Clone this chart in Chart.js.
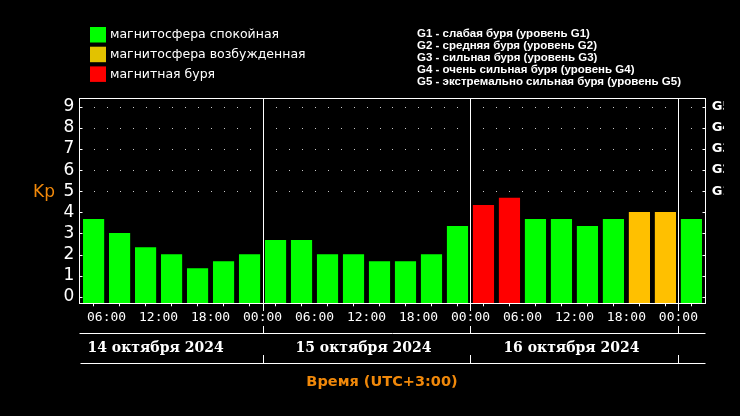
<!DOCTYPE html>
<html>
<head>
<meta charset="utf-8">
<script src="https://cdn.jsdelivr.net/npm/chart.js@4.4.1/dist/chart.umd.min.js"></script>
<style>
  html, body { margin: 0; padding: 0; background: #000; }
  #wrap { width: 740px; height: 416px; overflow: hidden; background: #000; }
  canvas { display: block; }
</style>
</head>
<body>
<div id="wrap"><canvas id="kpChart" width="724" height="416" style="width:724px;height:416px"></canvas></div>
<script>
// --- DATA ---
// 3-hour Kp index, 14 Oct 03:00 .. 17 Oct 03:00 (UTC+3)
const kpValues = [3.67, 3.0, 2.33, 2.0, 1.33, 1.67, 2.0,
                  2.67, 2.67, 2.0, 2.0, 1.67, 1.67, 2.0, 3.33,
                  4.33, 4.67, 3.67, 3.67, 3.33, 3.67, 4.0, 4.0,
                  3.67];
// 0 = спокойная, 1 = возбужденная, 2 = буря
const kpStatus = [0, 0, 0, 0, 0, 0, 0,
                  0, 0, 0, 0, 0, 0, 0, 0,
                  2, 2, 0, 0, 0, 0, 1, 1,
                  0];
const firstSlotHour = 3;   // hours since 14 Oct 00:00
const slotHours = 3;

const kpTicks = [0, 1, 2, 3, 4, 5, 6, 7, 8, 9];
const gTicks = [5, 6, 7, 8, 9];
const gLabels = ['G1', 'G2', 'G3', 'G4', 'G5'];
const timeTickHours = [6, 12, 18, 24, 30, 36, 42, 48, 54, 60, 66, 72];
const timeLabels = ['06:00', '12:00', '18:00', '00:00', '06:00', '12:00', '18:00', '00:00', '06:00', '12:00', '18:00', '00:00'];
const dayLabels = ['14 октября 2024', '15 октября 2024', '16 октября 2024'];
const dayStartHours = [0, 24, 48];
const daySeparators = [24, 48, 72];

const legendLabels = ['магнитосфера спокойная', 'магнитосфера возбужденная', 'магнитная буря'];
const legendColors = ['#00ff00', '#e2c200', '#ff0000'];
const barColors = ['#00ff00', '#ffc000', '#ff0000'];
const stormLegend = [
    'G1 - слабая буря (уровень G1)',
    'G2 - средняя буря (уровень G2)',
    'G3 - сильная буря (уровень G3)',
    'G4 - очень сильная буря (уровень G4)',
    'G5 - экстремально сильная буря (уровень G5)'
];

const Y_MIN = -0.31, Y_MAX = 9.4;
const X_MIN = 2.85, X_MAX = 75.15;
const ORANGE = '#f0880a';

// --- EXTRA DRAWING: frame, dots, separators, legends ---
const decor = {
    id: 'decor',
    beforeDatasetsDraw(chart) {
        const { ctx, chartArea: a, scales: { x, y } } = chart;
        ctx.save();
        ctx.fillStyle = '#c8c8c8';
        gTicks.forEach(v => {
            const py = Math.round(y.getPixelForValue(v));
            for (let h = 0; h <= 78; h += 1.5) {
                const px = Math.round(x.getPixelForValue(h));
                if (px <= a.left + 2 || px >= a.right - 2) continue;
                ctx.fillRect(px, py, 1, 1);
            }
        });
        ctx.restore();
    },
    afterDraw(chart) {
        const { ctx, chartArea: a, scales: { x, y } } = chart;
        const L = Math.round(a.left) + 0.5, R = Math.round(a.right) - 0.5;
        const T = Math.round(a.top) + 0.5, B = Math.round(a.bottom) + 0.5;
        ctx.save();
        ctx.strokeStyle = '#ffffff';
        ctx.lineWidth = 1;

        // frame
        ctx.strokeRect(L, T, R - L, B - T);

        // inner ticks on both sides
        ctx.beginPath();
        kpTicks.forEach(v => {
            const py = Math.round(y.getPixelForValue(v)) + 0.5;
            ctx.moveTo(L, py); ctx.lineTo(L + 3, py);
            ctx.moveTo(R, py); ctx.lineTo(R - 3, py);
        });
        ctx.stroke();

        // day separators
        ctx.beginPath();
        daySeparators.forEach(h => {
            const px = Math.round(x.getPixelForValue(h)) + 0.5;
            ctx.moveTo(px, T); ctx.lineTo(px, 311);
            ctx.moveTo(px, 326); ctx.lineTo(px, 333);
            ctx.moveTo(px, 355); ctx.lineTo(px, 363);
        });
        // date band lines
        ctx.moveTo(L, 333.5); ctx.lineTo(R, 333.5);
        ctx.moveTo(L + 1, 363.5); ctx.lineTo(R, 363.5);
        ctx.stroke();

        // dates
        ctx.fillStyle = '#ffffff';
        ctx.font = 'bold 14px "DejaVu Serif"';
        ctx.textAlign = 'center';
        ctx.textBaseline = 'middle';
        dayLabels.forEach((t, i) => {
            ctx.fillText(t, x.getPixelForValue(dayStartHours[i] + 12) - 3, 348);
        });

        // axis title
        ctx.fillStyle = ORANGE;
        ctx.font = 'bold 14.5px "DejaVu Sans"';
        ctx.fillText('Время (UTC+3:00)', 382, 382);

        // Kp
        ctx.textAlign = 'left';
        ctx.textBaseline = 'alphabetic';
        ctx.font = '17px "DejaVu Sans"';
        ctx.fillText('Kp', 33, 197);

        // status legend
        ctx.textBaseline = 'middle';
        ctx.font = '12.5px "DejaVu Sans"';
        legendLabels.forEach((t, i) => {
            const top = 27 + i * 19.7;
            ctx.fillStyle = legendColors[i];
            ctx.fillRect(90, top, 16, 15.5);
            ctx.fillStyle = '#ffffff';
            ctx.fillText(t, 110, top + 8);
        });

        // storm level legend
        ctx.font = 'bold 11.5px "Liberation Sans"';
        stormLegend.forEach((t, i) => {
            ctx.fillText(t, 417, 33.5 + i * 12.2);
        });
        ctx.restore();
    }
};

const barData = kpValues.map((v, i) => ({ x: firstSlotHour + slotHours * (i + 0.5), y: v }));

new Chart(document.getElementById('kpChart'), {
    type: 'bar',
    data: {
        datasets: [{
            data: barData,
            backgroundColor: kpStatus.map(s => barColors[s]),
            borderWidth: 0,
            barThickness: 20.5,
            base: Y_MIN
        }]
    },
    options: {
        responsive: false,
        devicePixelRatio: 1,
        animation: false,
        layout: { padding: { top: 98.3, left: 0, right: 0, bottom: 0 } },
        plugins: { legend: { display: false }, tooltip: { enabled: false } },
        scales: {
            x: {
                type: 'linear',
                position: 'bottom',
                offset: false,
                min: X_MIN,
                max: X_MAX,
                afterBuildTicks: s => {
                    const t = [];
                    for (let h = firstSlotHour; h <= X_MAX; h += slotHours) t.push({ value: h });
                    s.ticks = t;
                },
                afterFit: s => { s.height = 112.7; },
                border: { display: false },
                grid: { drawOnChartArea: false, tickLength: 3, color: '#ffffff' },
                ticks: {
                    autoSkip: false,
                    maxRotation: 0,
                    padding: 4,
                    color: '#ffffff',
                    font: { family: '"DejaVu Sans Mono"', size: 13 },
                    callback: v => {
                        const k = timeTickHours.indexOf(v);
                        return k >= 0 ? timeLabels[k] : '';
                    }
                }
            },
            y: {
                position: 'left',
                min: Y_MIN,
                max: Y_MAX,
                afterBuildTicks: s => { s.ticks = kpTicks.map(v => ({ value: v })); },
                afterFit: s => { s.width = 79.3; },
                border: { display: false },
                grid: { display: false, drawTicks: false },
                ticks: {
                    autoSkip: false,
                    padding: 5,
                    color: '#ffffff',
                    font: { family: '"DejaVu Sans"', size: 17 }
                }
            },
            y2: {
                position: 'right',
                min: Y_MIN,
                max: Y_MAX,
                afterBuildTicks: s => { s.ticks = gTicks.map(v => ({ value: v })); },
                afterFit: s => { s.width = 18.3; },
                border: { display: false },
                grid: { display: false, drawTicks: false },
                ticks: {
                    autoSkip: false,
                    padding: 6,
                    color: '#ffffff',
                    font: { family: '"DejaVu Sans"', size: 13, weight: 'bold' },
                    callback: v => gLabels[gTicks.indexOf(v)]
                }
            }
        }
    },
    plugins: [decor]
});
</script>
</body>
</html>
